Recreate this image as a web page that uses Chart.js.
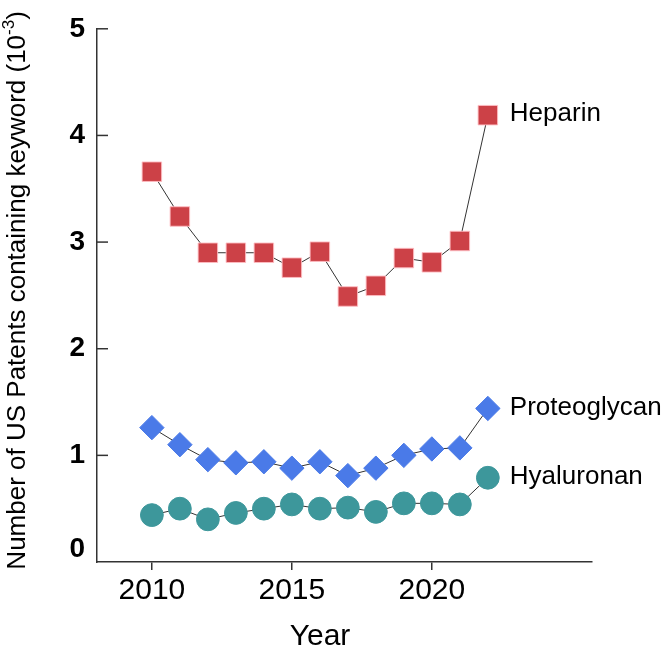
<!DOCTYPE html>
<html>
<head>
<meta charset="utf-8">
<script src="https://cdn.jsdelivr.net/npm/chart.js@4/dist/chart.umd.min.js"></script>
<style>
  body { margin: 0; background: #fff; }
  #wrap { width: 664px; height: 651px; }
</style>
</head>
<body>
<div id="wrap"><canvas id="patentChart" width="664" height="651"></canvas></div>
<script>
// values (per 1000 US patents)
const years = [2010, 2011, 2012, 2013, 2014, 2015, 2016, 2017, 2018, 2019, 2020, 2021, 2022];
const heparin = [3.66, 3.24, 2.90, 2.90, 2.90, 2.76, 2.91, 2.49, 2.59, 2.85, 2.81, 3.01, 4.19];
const proteoglycan = [1.26, 1.10, 0.96, 0.93, 0.94, 0.88, 0.94, 0.81, 0.88, 1.00, 1.06, 1.07, 1.44];
const hyaluronan = [0.44, 0.50, 0.40, 0.46, 0.50, 0.54, 0.50, 0.51, 0.47, 0.55, 0.55, 0.54, 0.79];
const seriesNames = ['Heparin', 'Proteoglycan', 'Hyaluronan'];
const yTicks = [0, 1, 2, 3, 4, 5];
const xTicks = [2010, 2015, 2020];

const colors = { heparin: '#cc4147', proteoglycan: '#4a7ae8', hyaluronan: '#3d979b' };
const axisColor = '#333';
const sans = "'Liberation Sans', Arial, 'DejaVu Sans', sans-serif";

const toPoints = vals => vals.map((v, i) => ({ x: years[i], y: v }));

function series(label, vals, color, style, radius, border) {
  return {
    label,
    data: toPoints(vals),
    borderColor: '#333',
    borderWidth: 1,
    pointStyle: style,
    pointRadius: radius,
    pointHoverRadius: radius,
    pointBackgroundColor: color,
    pointBorderColor: border,
    pointBorderWidth: 1
  };
}

// y tick marks point into the plot, and the "0" label sits a bit higher
const axisExtras = {
  id: 'axisExtras',
  beforeDraw(chart) {
    const s = chart.scales.y;
    s.getLabelItems(chart.chartArea).forEach(item => {
      if (item.label === '0') item.options.translation[1] = s.getPixelForValue(0) - 13;
    });
  },
  afterDraw(chart) {
    const { ctx, chartArea } = chart;
    const s = chart.scales.y;
    ctx.save();
    ctx.strokeStyle = axisColor;
    ctx.lineWidth = 1.5;
    yTicks.forEach(v => {
      if (v === 0) return;
      const y = s.getPixelForValue(v);
      ctx.beginPath();
      ctx.moveTo(chartArea.left, y);
      ctx.lineTo(chartArea.left + 11, y);
      ctx.stroke();
    });

    ctx.fillStyle = '#000';
    ctx.textBaseline = 'middle';

    // x title, a little left of the axis centre like the original
    ctx.font = '30px ' + sans;
    ctx.textAlign = 'center';
    ctx.fillText('Year', 320, 637);

    // series names next to the last point
    ctx.font = '26px ' + sans;
    ctx.textAlign = 'left';
    chart.data.datasets.forEach((ds, i) => {
      const pts = chart.getDatasetMeta(i).data;
      const last = pts[pts.length - 1];
      ctx.fillText(seriesNames[i], last.x + 22, last.y - 1);
    });

    // y title with superscript exponent
    const big = '26px ' + sans, small = '17px ' + sans;
    const parts = [
      ['Number of US Patents containing keyword (10', big, 0],
      ['-3', small, -9],
      [')', big, 0]
    ];
    let total = 0;
    parts.forEach(p => { ctx.font = p[1]; p.push(ctx.measureText(p[0]).width); total += p[3]; });
    ctx.translate(18, (chartArea.top + chartArea.bottom) / 2 - 5);
    ctx.rotate(-Math.PI / 2);
    let x = -total / 2;
    parts.forEach(p => {
      ctx.font = p[1];
      ctx.fillText(p[0], x, p[2]);
      x += p[3];
    });
    ctx.restore();
  }
};

new Chart(document.getElementById('patentChart'), {
  type: 'line',
  data: {
    datasets: [
      series('Heparin', heparin, colors.heparin, 'rect', 13.8, 'rgba(255,190,195,0.9)'),
      series('Proteoglycan', proteoglycan, colors.proteoglycan, 'rectRot', 12.2, colors.proteoglycan),
      series('Hyaluronan', hyaluronan, colors.hyaluronan, 'circle', 11.4, colors.hyaluronan)
    ]
  },
  options: {
    responsive: false,
    animation: false,
    layout: { padding: { top: 26, right: 72, left: 0, bottom: 0 } },
    plugins: { legend: { display: false }, tooltip: { enabled: false } },
    scales: {
      x: {
        type: 'linear',
        min: 2008.04,
        max: 2025.72,
        afterBuildTicks: s => { s.ticks = xTicks.map(v => ({ value: v })); },
        afterFit: s => { s.height = 89; },
        border: { display: true, color: axisColor, width: 1.5 },
        grid: { drawOnChartArea: false, drawTicks: true, tickLength: 8, color: axisColor, lineWidth: 1.5 },
        ticks: { color: '#000', padding: 3, font: { family: sans, size: 30 }, callback: v => String(v) }
      },
      y: {
        min: 0,
        max: 5,
        afterBuildTicks: s => { s.ticks = yTicks.map(v => ({ value: v })); },
        afterFit: s => { s.width = 97; },
        border: { display: true, color: axisColor, width: 1.5 },
        grid: { display: false, drawTicks: false },
        ticks: { color: '#000', padding: 12, font: { family: "'Liberation Sans Narrow', " + sans, size: 28, weight: 'bold' } }
      }
    }
  },
  plugins: [axisExtras]
});
</script>
</body>
</html>
